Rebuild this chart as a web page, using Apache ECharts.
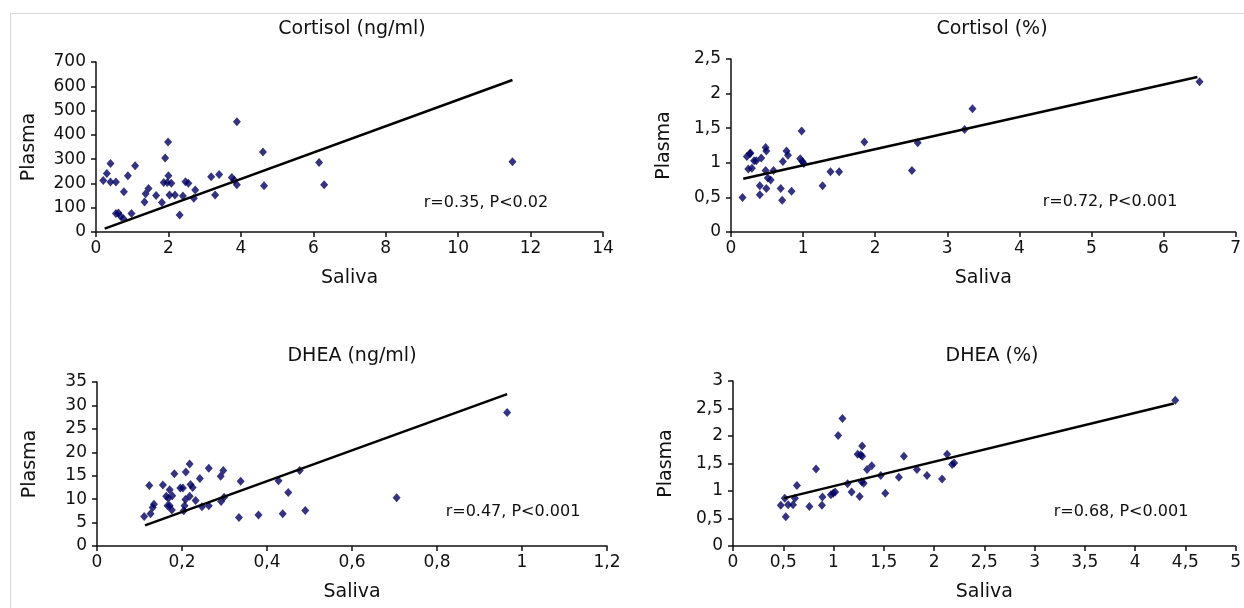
<!DOCTYPE html>
<html>
<head>
<meta charset="utf-8">
<script src="https://cdn.jsdelivr.net/npm/echarts/dist/echarts.min.js"></script>
<style>
html,body{margin:0;padding:0;background:#fff;}
#chart{width:1244px;height:608px;}
</style>
</head>
<body>
<div id="chart"></div>
<script>
// ---- Panel titles and annotations ----
const panelTitles = ['Cortisol (ng/ml)', 'Cortisol (%)', 'DHEA (ng/ml)', 'DHEA (%)'];
const panelStats = ['r=0.35, P<0.02', 'r=0.72, P<0.001', 'r=0.47, P<0.001', 'r=0.68, P<0.001'];
const xAxisName = 'Saliva';
const yAxisName = 'Plasma';

// ---- Axis ranges ----
const xMax = [14, 7, 1.2, 5];
const xStep = [2, 1, 0.2, 0.5];
const yMax = [700, 2.5, 35, 3];
const yStep = [100, 0.5, 5, 0.5];

// ---- Cortisol (ng/ml) ----
const cortNgSaliva = [0.2,0.3,0.4,0.4,0.55,0.55,0.62,0.68,0.76,0.77,0.88,0.98,1.08,1.34,1.37,1.45,1.66,1.82,1.87,1.91,1.99,2.0,1.97,2.08,2.03,2.18,2.31,2.4,2.47,2.55,2.7,2.74,3.18,3.29,3.4,3.75,3.82,3.89,3.89,4.61,4.64,6.16,6.3,11.5];
const cortNgPlasma = [212,241,282,206,206,76,78,65,55,166,232,76,273,124,158,179,150,121,204,305,371,232,204,201,152,152,70,148,207,201,139,173,228,152,237,224,213,195,454,329,190,286,195,289];
const cortNgTrendX = [0.24, 11.5];
const cortNgTrendY = [14, 626];

// ---- Cortisol (%) ----
const cortPctSaliva = [0.16,0.22,0.26,0.27,0.24,0.29,0.32,0.35,0.40,0.40,0.42,0.48,0.49,0.48,0.49,0.51,0.55,0.59,0.69,0.71,0.72,0.77,0.79,0.84,0.98,0.96,0.99,1.01,1.27,1.38,1.50,1.85,2.51,2.59,3.24,3.35,6.5];
const cortPctPlasma = [0.50,1.09,1.13,1.14,0.91,0.92,1.03,1.03,0.67,0.54,1.07,1.22,1.17,0.89,0.63,0.78,0.75,0.89,0.63,0.46,1.02,1.17,1.11,0.59,1.46,1.06,1.02,0.99,0.67,0.87,0.87,1.30,0.89,1.29,1.48,1.78,2.17];
const cortPctTrendX = [0.17, 6.47];
const cortPctTrendY = [0.77, 2.24];

// ---- DHEA (ng/ml) ----
const dheaNgSaliva = [0.111,0.123,0.126,0.131,0.134,0.155,0.163,0.166,0.168,0.171,0.171,0.176,0.177,0.182,0.196,0.202,0.204,0.206,0.208,0.209,0.218,0.218,0.22,0.225,0.232,0.242,0.247,0.263,0.263,0.291,0.292,0.297,0.299,0.334,0.338,0.38,0.427,0.437,0.45,0.477,0.49,0.705,0.965];
const dheaNgPlasma = [6.3,12.9,6.9,8.2,8.9,13.0,10.6,8.6,10.2,12.0,8.6,7.7,10.7,15.4,12.4,12.4,7.5,8.6,9.9,15.8,17.5,10.6,13.1,12.5,9.7,14.4,8.4,16.6,8.6,14.9,9.5,16.1,10.4,6.1,13.8,6.6,13.9,6.9,11.4,16.1,7.6,10.3,28.5];
const dheaNgTrendX = [0.113, 0.965];
const dheaNgTrendY = [4.4, 32.4];

// ---- DHEA (%) ----
const dheaPctSaliva = [0.475,0.515,0.525,0.548,0.597,0.616,0.636,0.76,0.826,0.885,0.89,0.974,0.997,1.016,1.046,1.089,1.14,1.18,1.24,1.27,1.285,1.285,1.26,1.28,1.30,1.334,1.38,1.47,1.515,1.65,1.70,1.83,1.93,2.08,2.13,2.18,2.20,4.40];
const dheaPctPlasma = [0.74,0.87,0.53,0.75,0.75,0.87,1.10,0.72,1.40,0.74,0.89,0.93,0.96,0.98,2.01,2.32,1.13,0.98,1.67,1.66,1.63,1.82,0.90,1.17,1.14,1.39,1.46,1.28,0.96,1.25,1.63,1.39,1.28,1.22,1.67,1.48,1.51,2.65];
const dheaPctTrendX = [0.51, 4.385];
const dheaPctTrendY = [0.87, 2.59];

const panels = [
  {sx: cortNgSaliva, sy: cortNgPlasma, tx: cortNgTrendX, ty: cortNgTrendY},
  {sx: cortPctSaliva, sy: cortPctPlasma, tx: cortPctTrendX, ty: cortPctTrendY},
  {sx: dheaNgSaliva, sy: dheaNgPlasma, tx: dheaNgTrendX, ty: dheaNgTrendY},
  {sx: dheaPctSaliva, sy: dheaPctPlasma, tx: dheaPctTrendX, ty: dheaPctTrendY}
];

// ---- Layout (pixels) ----
const grids = [
  {left: 96, top: 62, width: 507, height: 170},
  {left: 731, top: 59, width: 510, height: 173},
  {left: 97, top: 382, width: 510, height: 164},
  {left: 733, top: 381, width: 509, height: 165}
];
const titlePos = [[347, 15], [987, 15], [347, 342], [987, 342]];
const statPos = [[486, 203], [1110, 202], [513, 512], [1121, 512]];

const FONT = 'DejaVu Sans';
const TXT = '#111';
const fmt = v => String(Number(v.toFixed(3))).replace('.', ',');

const option = {
  animation: false,
  backgroundColor: '#fff',
  title: panelTitles.map((t, i) => ({
    text: t, left: titlePos[i][0], top: titlePos[i][1], textAlign: 'center',
    textStyle: {fontFamily: FONT, fontSize: 19, fontWeight: 'normal', color: TXT}
  })),
  grid: grids.map(g => Object.assign({containLabel: false}, g)),
  xAxis: grids.map((g, i) => ({
    gridIndex: i, type: 'value', min: 0, max: xMax[i], interval: xStep[i],
    name: xAxisName, nameLocation: 'middle', nameGap: 37,
    nameTextStyle: {fontFamily: FONT, fontSize: 19, color: TXT},
    axisLine: {onZero: false, lineStyle: {color: '#111', width: 1.5}},
    axisTick: {show: true, inside: false, length: 5, lineStyle: {color: '#111', width: 1.5}},
    axisLabel: {fontFamily: FONT, fontSize: 17, color: TXT, margin: 8, formatter: fmt},
    splitLine: {show: false}
  })),
  yAxis: grids.map((g, i) => ({
    gridIndex: i, type: 'value', min: 0, max: yMax[i], interval: yStep[i],
    name: yAxisName, nameLocation: 'middle', nameGap: 57,
    nameTextStyle: {fontFamily: FONT, fontSize: 19, color: TXT},
    axisLine: {show: true, onZero: false, lineStyle: {color: '#111', width: 1.5}},
    axisTick: {show: true, inside: false, length: 5, lineStyle: {color: '#111', width: 1.5}},
    axisLabel: {fontFamily: FONT, fontSize: 17, color: TXT, margin: 10, formatter: fmt},
    splitLine: {show: false}
  })),
  series: [],
  graphic: [
    {type: 'line', shape: {x1: 10, y1: 13.5, x2: 1244, y2: 13.5}, style: {stroke: '#d9d9d9', lineWidth: 1}},
    {type: 'line', shape: {x1: 10.5, y1: 13.5, x2: 10.5, y2: 608}, style: {stroke: '#d9d9d9', lineWidth: 1}}
  ].concat(panelStats.map((s, i) => ({
    type: 'text', x: statPos[i][0], y: statPos[i][1],
    style: {text: s, fontFamily: FONT, fontSize: 16, fill: TXT, textAlign: 'center', textVerticalAlign: 'middle'}
  })))
};

panels.forEach((p, i) => {
  option.series.push({
    type: 'scatter', xAxisIndex: i, yAxisIndex: i,
    symbol: 'diamond', symbolSize: [8, 9],
    itemStyle: {color: '#000060'},
    data: p.sx.map((x, k) => [x, p.sy[k]])
  });
  option.series.push({
    type: 'line', xAxisIndex: i, yAxisIndex: i,
    symbol: 'none', z: 3,
    lineStyle: {color: '#000', width: 2.5},
    data: p.tx.map((x, k) => [x, p.ty[k]])
  });
});

const chart = echarts.init(document.getElementById('chart'), null, {renderer: 'canvas'});
chart.setOption(option);
</script>
</body>
</html>
